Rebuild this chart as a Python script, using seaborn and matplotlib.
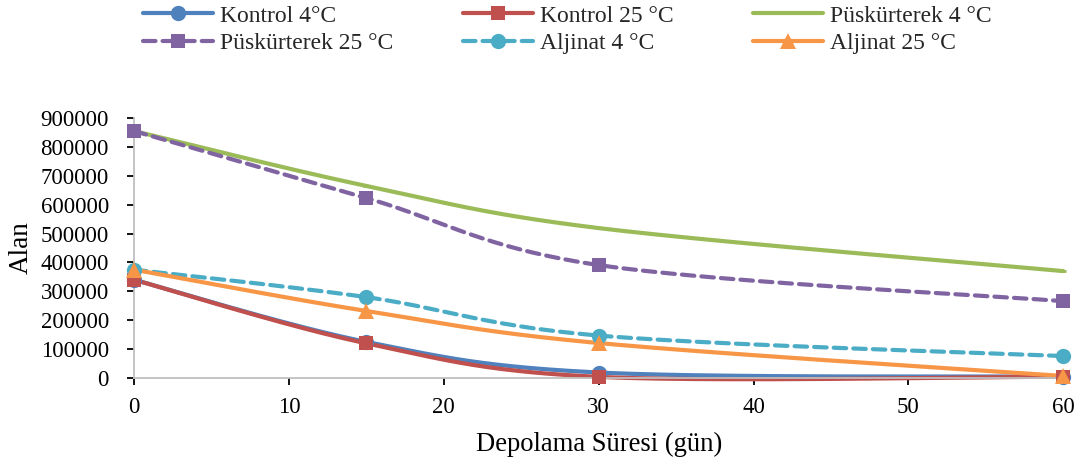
import numpy as np
import pandas as pd
import matplotlib
matplotlib.use("Agg")
import matplotlib.pyplot as plt
from matplotlib.lines import Line2D
import seaborn as sns

# Storage time (days)
days = [0, 15, 30, 60]

# Peak area per treatment
kontrol_4 = [340000, 125000, 19000, 5000]
kontrol_25 = [340000, 120000, 4000, 5000]
puskurterek_4 = [855000, 665000, 519000, 370000]
puskurterek_25 = [855000, 623000, 391000, 266000]
aljinat_4 = [375000, 280000, 147000, 76000]
aljinat_25 = [375000, 232000, 121000, 7000]

series_names = ["Kontrol 4°C", "Kontrol 25 °C", "Püskürterek 4 °C",
                "Püskürterek 25 °C", "Aljinat 4 °C", "Aljinat 25 °C"]
series_values = [kontrol_4, kontrol_25, puskurterek_4,
                 puskurterek_25, aljinat_4, aljinat_25]

dash = (0, (3.0, 1.7))
styles = {
    "Kontrol 4°C": dict(color="#4F81BD", marker="o", ls="-", ms=11),
    "Kontrol 25 °C": dict(color="#C0504D", marker="s", ls="-", ms=10.5),
    "Püskürterek 4 °C": dict(color="#9BBB59", marker="_", ls="-", ms=5),
    "Püskürterek 25 °C": dict(color="#8064A2", marker="s", ls=dash, ms=10.5),
    "Aljinat 4 °C": dict(color="#4BACC6", marker="o", ls=dash, ms=11),
    "Aljinat 25 °C": dict(color="#F79646", marker="^", ls="-", ms=11),
}


def smooth_curve(xs, ys, n=60):
    """Bezier smoothing through the points (spreadsheet-style smoothed line)."""
    pts = np.column_stack([xs, ys]).astype(float)
    out = []
    for i in range(len(pts) - 1):
        p0 = pts[i - 1] if i > 0 else pts[i]
        p1 = pts[i]
        p2 = pts[i + 1]
        p3 = pts[i + 2] if i + 2 < len(pts) else pts[i + 1]
        b1 = p1 + (p2 - p0) / 6.0
        b2 = p2 - (p3 - p1) / 6.0
        t = np.linspace(0, 1, n)[:, None]
        seg = ((1 - t) ** 3) * p1 + 3 * ((1 - t) ** 2) * t * b1 \
            + 3 * (1 - t) * t ** 2 * b2 + t ** 3 * p2
        out.append(seg if i == 0 else seg[1:])
    return np.vstack(out)


sns.set_theme(style="white")
plt.rcParams["font.family"] = ["Liberation Serif", "DejaVu Serif"]

fig = plt.figure(figsize=(10.85, 4.63), dpi=100)
ax = fig.add_axes([0.1235, 0.1836, 0.8565, 0.5615])

for name, vals in zip(series_names, series_values):
    st = styles[name]
    curve = smooth_curve(days, vals)
    cdf = pd.DataFrame({"x": curve[:, 0], "y": curve[:, 1]})
    sns.lineplot(data=cdf, x="x", y="y", ax=ax, sort=False, estimator=None,
                 color=st["color"], linewidth=3, linestyle=st["ls"])
    ax.lines[-1].set_dash_capstyle("round")
    ax.lines[-1].set_clip_on(False)
    pdf = pd.DataFrame({"x": days, "y": vals})
    ax.plot(pdf["x"], pdf["y"], ls="none", marker=st["marker"],
            color=st["color"], ms=st["ms"], mew=2 if st["marker"] == "_" else 0,
            clip_on=False, zorder=3)

ax.set_xlim(0, 60)
ax.set_ylim(0, 900000)
ax.set_xticks(range(0, 61, 10))
ax.set_yticks(range(0, 900001, 100000))
ax.tick_params(axis="both", labelsize=16.5, colors="#000000", length=5,
               width=1.3, direction="out", left=True, bottom=True)
ax.tick_params(axis="y", pad=13)
ax.tick_params(axis="x", pad=9)
for t in ax.get_xticklines() + ax.get_yticklines():
    t.set_color("#BFBFBF")
for side in ["top", "right"]:
    ax.spines[side].set_visible(False)
for side in ["left", "bottom"]:
    ax.spines[side].set_color("#BFBFBF")
    ax.spines[side].set_linewidth(1.3)
ax.set_xlabel("Depolama Süresi (gün)", fontsize=19.2, color="#000000", labelpad=10)
ax.set_ylabel("Alan", fontsize=19.5, color="#000000", labelpad=5)

# Legend: three columns of two entries each
handles = {}
for name in series_names:
    st = styles[name]
    handles[name] = Line2D([], [], color=st["color"], linewidth=3,
                           linestyle=st["ls"], marker=st["marker"],
                           ms=st["ms"], mew=2 if st["marker"] == "_" else 0,
                           dash_capstyle="round")
columns = [(0, 3), (1, 4), (2, 5)]
col_x = [143, 463, 753]
for (a, b), x0 in zip(columns, col_x):
    fig.legend([handles[series_names[a]], handles[series_names[b]]],
               [series_names[a], series_names[b]],
               loc="upper left", bbox_to_anchor=(x0 / 1085, 1 - 5 / 463),
               frameon=False, fontsize=17, handlelength=2.95,
               handletextpad=0.3, labelspacing=0.26,
               borderpad=0, borderaxespad=0)

fig.savefig("out.png", dpi=100)
